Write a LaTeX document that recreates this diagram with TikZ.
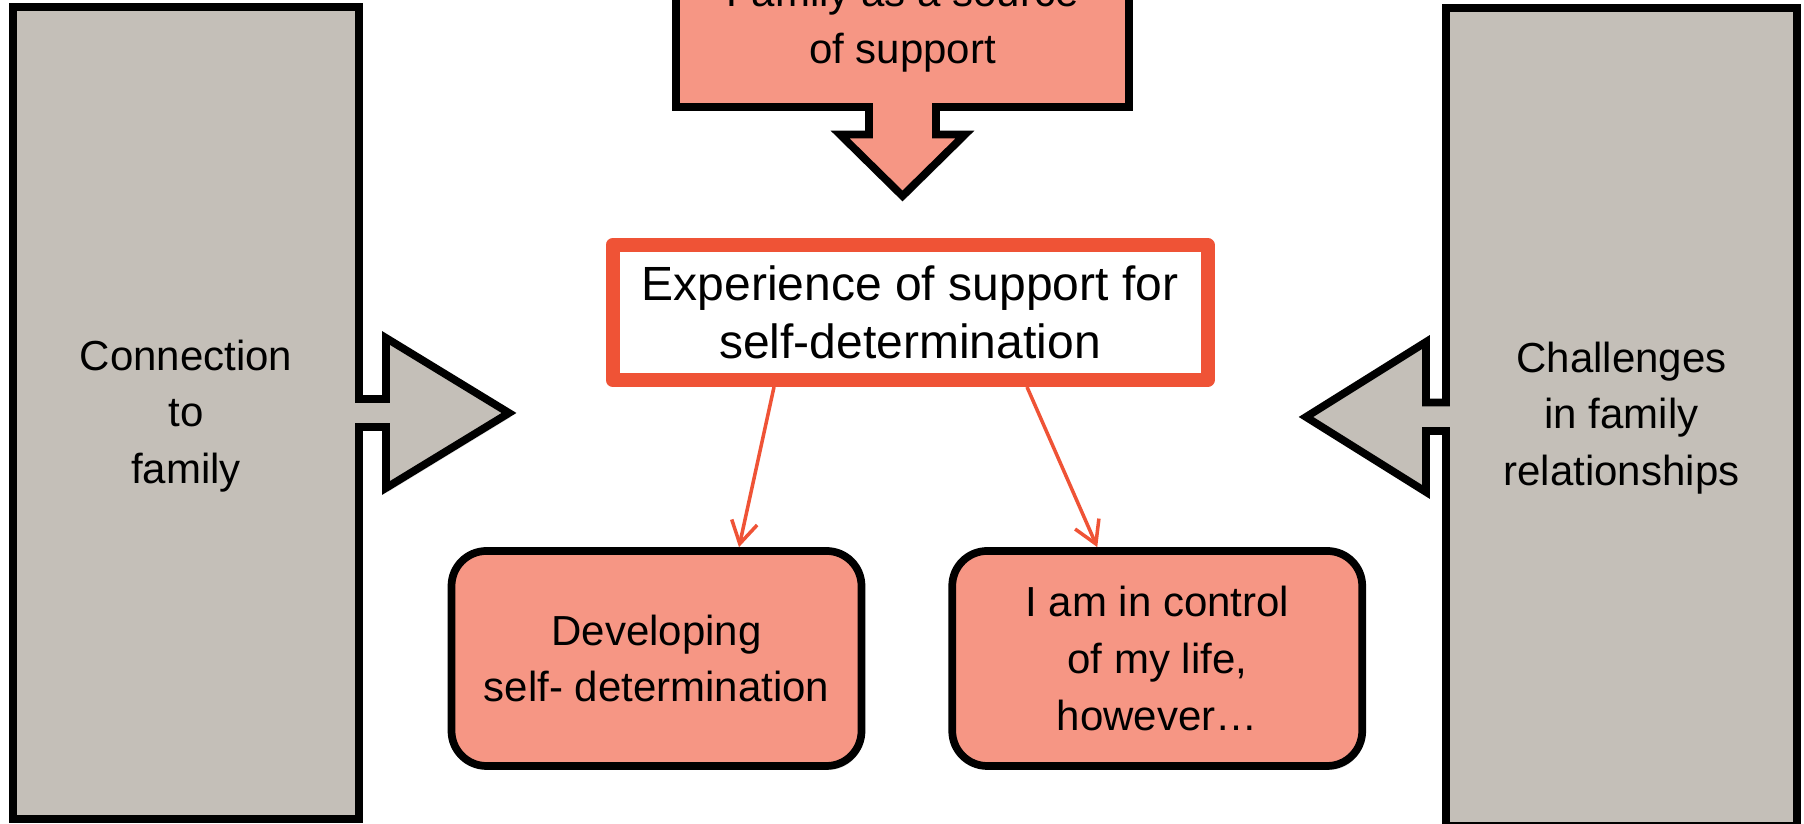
\documentclass[tikz,border=0pt]{standalone}
\usepackage{fontspec}
\setmainfont{Liberation Sans}
\usepackage{tikz}
\usetikzlibrary{arrows.meta,positioning,calc,shadows}

\definecolor{stone}{RGB}{196,191,184}
\definecolor{salmon}{RGB}{246,150,132}
\definecolor{brick}{RGB}{239,83,54}

\begin{document}
\begin{tikzpicture}[
    callout/.style={draw, line width=2.2pt, fill=stone, drop shadow={opacity=0.25, shadow xshift=0.02cm, shadow yshift=-0.04cm}},
    theme/.style={rectangle, draw, line width=2.2pt, fill=salmon, rounded corners=0.35cm, minimum width=4.1cm, minimum height=2.15cm, align=center, font=\fontsize{11.95}{16.1}\selectfont, drop shadow={opacity=0.25, shadow xshift=0.02cm, shadow yshift=-0.04cm}},
    core/.style={rectangle, draw=brick, line width=0.14cm, line join=round, fill=white, minimum width=5.95cm, minimum height=1.35cm, align=center, font=\fontsize{13.66}{16.5}\selectfont},
    sidetext/.style={align=center, font=\fontsize{11.95}{16.1}\selectfont},
    arrow/.style={-{Straight Barb[length=2.2mm, width=2.6mm]}, brick, line width=1pt}
]
\useasboundingbox (0,0) rectangle (18.04,8.24);

% left callout
\draw[callout] (0.13,8.17) -- (3.59,8.17) -- (3.59,4.25) -- (3.86,4.25) -- (3.86,4.86) -- (5.09,4.11)
    -- (3.86,3.36) -- (3.86,3.97) -- (3.59,3.97) -- (3.59,0.05) -- (0.13,0.05) -- cycle;
\node[sidetext] (connect) at (1.86,4.08) {Connection\\to\\family};

% right callout
\draw[callout] (17.97,8.16) -- (14.46,8.16) -- (14.46,4.215) -- (14.26,4.215) -- (14.26,4.82) -- (13.06,4.07)
    -- (14.26,3.32) -- (14.26,3.93) -- (14.46,3.93) -- (14.46,-0.02) -- (17.97,-0.02) -- cycle;
\node[sidetext] (challenges) at (16.215,4.06) {Challenges\\in family\\relationships};

% top callout
\draw[callout, fill=salmon] (6.76,9.2) -- (6.76,7.17) -- (8.69,7.17) -- (8.69,6.895) -- (8.40,6.895) -- (9.025,6.28)
    -- (9.65,6.895) -- (9.36,6.895) -- (9.36,7.17) -- (11.29,7.17) -- (11.29,9.2) -- cycle;
\node[sidetext] (source) at (9.025,8.00) {Family as a source\\of support};

\node[core] (exp) at (9.10,5.115) {Experience of support for\\self-determination};
\node[theme] (devel) at (6.565,1.655) {Developing\\self- determination};
\node[theme, right=0.83cm of devel] (control) {I am in control\\of my life,\\however\ldots};

\draw[arrow] ($(exp.south)+(-1.36,0)$) -- ($(devel.north)+(0.825,0)$);
\draw[arrow] ($(exp.south)+(1.17,0)$) -- ($(control.north)+(-0.6,0)$);
\end{tikzpicture}
\end{document}
